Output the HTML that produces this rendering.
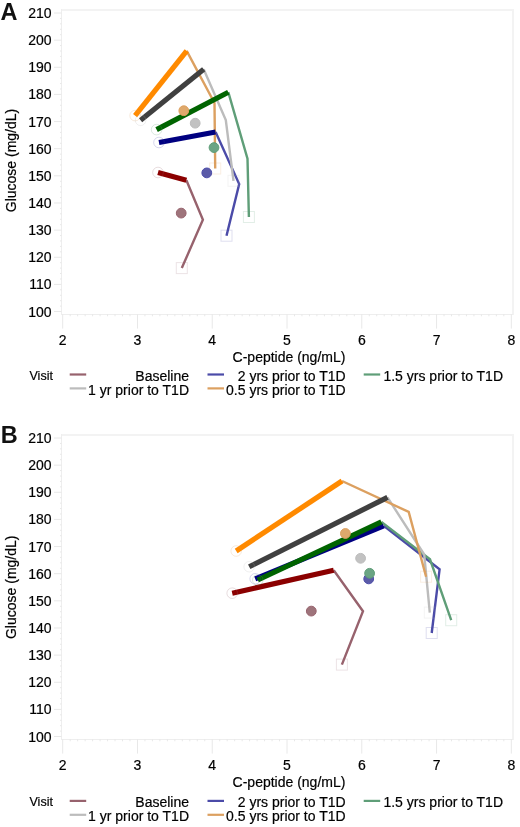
<!DOCTYPE html>
<html><head><meta charset="utf-8"><title>Glucose vs C-peptide</title>
<style>
html,body{margin:0;padding:0;background:#fff;}
body{width:520px;height:827px;overflow:hidden;}
svg{display:block;will-change:transform;}
.t{font-family:"Liberation Sans", sans-serif;font-size:14px;fill:#000;stroke:#000;stroke-width:0.2px;}
.v{font-family:"Liberation Sans", sans-serif;font-size:12.5px;fill:#000;stroke:#000;stroke-width:0.2px;}
.lab{font-family:"Liberation Sans", sans-serif;font-size:23.5px;font-weight:bold;fill:#111;}
</style></head>
<body>
<svg width="520" height="827" viewBox="0 0 520 827">
<text x="0.5" y="19.6" class="lab">A</text>
<line x1="61.5" y1="10" x2="514" y2="10" stroke="#f3f3f3" stroke-width="2"/>
<line x1="513" y1="10" x2="513" y2="315" stroke="#f3f3f3" stroke-width="2"/>
<line x1="61.5" y1="9" x2="61.5" y2="315" stroke="#eeeeee" stroke-width="1"/>
<line x1="61" y1="314.5" x2="513" y2="314.5" stroke="#eeeeee" stroke-width="1"/>
<line x1="54" y1="13.00" x2="61.5" y2="13.00" stroke="#e8e8e8" stroke-width="1"/>
<text x="51.5" y="18.00" text-anchor="end" class="t">210</text>
<line x1="54" y1="40.14" x2="61.5" y2="40.14" stroke="#e8e8e8" stroke-width="1"/>
<text x="51.5" y="45.14" text-anchor="end" class="t">200</text>
<line x1="54" y1="67.28" x2="61.5" y2="67.28" stroke="#e8e8e8" stroke-width="1"/>
<text x="51.5" y="72.28" text-anchor="end" class="t">190</text>
<line x1="54" y1="94.42" x2="61.5" y2="94.42" stroke="#e8e8e8" stroke-width="1"/>
<text x="51.5" y="99.42" text-anchor="end" class="t">180</text>
<line x1="54" y1="121.56" x2="61.5" y2="121.56" stroke="#e8e8e8" stroke-width="1"/>
<text x="51.5" y="126.56" text-anchor="end" class="t">170</text>
<line x1="54" y1="148.70" x2="61.5" y2="148.70" stroke="#e8e8e8" stroke-width="1"/>
<text x="51.5" y="153.70" text-anchor="end" class="t">160</text>
<line x1="54" y1="175.84" x2="61.5" y2="175.84" stroke="#e8e8e8" stroke-width="1"/>
<text x="51.5" y="180.84" text-anchor="end" class="t">150</text>
<line x1="54" y1="202.98" x2="61.5" y2="202.98" stroke="#e8e8e8" stroke-width="1"/>
<text x="51.5" y="207.98" text-anchor="end" class="t">140</text>
<line x1="54" y1="230.12" x2="61.5" y2="230.12" stroke="#e8e8e8" stroke-width="1"/>
<text x="51.5" y="235.12" text-anchor="end" class="t">130</text>
<line x1="54" y1="257.26" x2="61.5" y2="257.26" stroke="#e8e8e8" stroke-width="1"/>
<text x="51.5" y="262.26" text-anchor="end" class="t">120</text>
<line x1="54" y1="284.40" x2="61.5" y2="284.40" stroke="#e8e8e8" stroke-width="1"/>
<text x="51.5" y="289.40" text-anchor="end" class="t">110</text>
<line x1="54" y1="311.54" x2="61.5" y2="311.54" stroke="#e8e8e8" stroke-width="1"/>
<text x="51.5" y="316.54" text-anchor="end" class="t">100</text>
<line x1="60" y1="18.43" x2="61.5" y2="18.43" stroke="#e8e8e8" stroke-width="1"/>
<line x1="60" y1="23.86" x2="61.5" y2="23.86" stroke="#e8e8e8" stroke-width="1"/>
<line x1="60" y1="29.28" x2="61.5" y2="29.28" stroke="#e8e8e8" stroke-width="1"/>
<line x1="60" y1="34.71" x2="61.5" y2="34.71" stroke="#e8e8e8" stroke-width="1"/>
<line x1="60" y1="45.57" x2="61.5" y2="45.57" stroke="#e8e8e8" stroke-width="1"/>
<line x1="60" y1="51.00" x2="61.5" y2="51.00" stroke="#e8e8e8" stroke-width="1"/>
<line x1="60" y1="56.42" x2="61.5" y2="56.42" stroke="#e8e8e8" stroke-width="1"/>
<line x1="60" y1="61.85" x2="61.5" y2="61.85" stroke="#e8e8e8" stroke-width="1"/>
<line x1="60" y1="72.71" x2="61.5" y2="72.71" stroke="#e8e8e8" stroke-width="1"/>
<line x1="60" y1="78.14" x2="61.5" y2="78.14" stroke="#e8e8e8" stroke-width="1"/>
<line x1="60" y1="83.56" x2="61.5" y2="83.56" stroke="#e8e8e8" stroke-width="1"/>
<line x1="60" y1="88.99" x2="61.5" y2="88.99" stroke="#e8e8e8" stroke-width="1"/>
<line x1="60" y1="99.85" x2="61.5" y2="99.85" stroke="#e8e8e8" stroke-width="1"/>
<line x1="60" y1="105.28" x2="61.5" y2="105.28" stroke="#e8e8e8" stroke-width="1"/>
<line x1="60" y1="110.70" x2="61.5" y2="110.70" stroke="#e8e8e8" stroke-width="1"/>
<line x1="60" y1="116.13" x2="61.5" y2="116.13" stroke="#e8e8e8" stroke-width="1"/>
<line x1="60" y1="126.99" x2="61.5" y2="126.99" stroke="#e8e8e8" stroke-width="1"/>
<line x1="60" y1="132.42" x2="61.5" y2="132.42" stroke="#e8e8e8" stroke-width="1"/>
<line x1="60" y1="137.84" x2="61.5" y2="137.84" stroke="#e8e8e8" stroke-width="1"/>
<line x1="60" y1="143.27" x2="61.5" y2="143.27" stroke="#e8e8e8" stroke-width="1"/>
<line x1="60" y1="154.13" x2="61.5" y2="154.13" stroke="#e8e8e8" stroke-width="1"/>
<line x1="60" y1="159.56" x2="61.5" y2="159.56" stroke="#e8e8e8" stroke-width="1"/>
<line x1="60" y1="164.98" x2="61.5" y2="164.98" stroke="#e8e8e8" stroke-width="1"/>
<line x1="60" y1="170.41" x2="61.5" y2="170.41" stroke="#e8e8e8" stroke-width="1"/>
<line x1="60" y1="181.27" x2="61.5" y2="181.27" stroke="#e8e8e8" stroke-width="1"/>
<line x1="60" y1="186.70" x2="61.5" y2="186.70" stroke="#e8e8e8" stroke-width="1"/>
<line x1="60" y1="192.12" x2="61.5" y2="192.12" stroke="#e8e8e8" stroke-width="1"/>
<line x1="60" y1="197.55" x2="61.5" y2="197.55" stroke="#e8e8e8" stroke-width="1"/>
<line x1="60" y1="208.41" x2="61.5" y2="208.41" stroke="#e8e8e8" stroke-width="1"/>
<line x1="60" y1="213.84" x2="61.5" y2="213.84" stroke="#e8e8e8" stroke-width="1"/>
<line x1="60" y1="219.26" x2="61.5" y2="219.26" stroke="#e8e8e8" stroke-width="1"/>
<line x1="60" y1="224.69" x2="61.5" y2="224.69" stroke="#e8e8e8" stroke-width="1"/>
<line x1="60" y1="235.55" x2="61.5" y2="235.55" stroke="#e8e8e8" stroke-width="1"/>
<line x1="60" y1="240.98" x2="61.5" y2="240.98" stroke="#e8e8e8" stroke-width="1"/>
<line x1="60" y1="246.40" x2="61.5" y2="246.40" stroke="#e8e8e8" stroke-width="1"/>
<line x1="60" y1="251.83" x2="61.5" y2="251.83" stroke="#e8e8e8" stroke-width="1"/>
<line x1="60" y1="262.69" x2="61.5" y2="262.69" stroke="#e8e8e8" stroke-width="1"/>
<line x1="60" y1="268.12" x2="61.5" y2="268.12" stroke="#e8e8e8" stroke-width="1"/>
<line x1="60" y1="273.54" x2="61.5" y2="273.54" stroke="#e8e8e8" stroke-width="1"/>
<line x1="60" y1="278.97" x2="61.5" y2="278.97" stroke="#e8e8e8" stroke-width="1"/>
<line x1="60" y1="289.83" x2="61.5" y2="289.83" stroke="#e8e8e8" stroke-width="1"/>
<line x1="60" y1="295.26" x2="61.5" y2="295.26" stroke="#e8e8e8" stroke-width="1"/>
<line x1="60" y1="300.68" x2="61.5" y2="300.68" stroke="#e8e8e8" stroke-width="1"/>
<line x1="60" y1="306.11" x2="61.5" y2="306.11" stroke="#e8e8e8" stroke-width="1"/>
<line x1="62.70" y1="314.2" x2="62.70" y2="328.6" stroke="#e8e8e8" stroke-width="1"/>
<text x="62.70" y="345" text-anchor="middle" class="t">2</text>
<line x1="137.47" y1="314.2" x2="137.47" y2="328.6" stroke="#e8e8e8" stroke-width="1"/>
<text x="137.47" y="345" text-anchor="middle" class="t">3</text>
<line x1="212.24" y1="314.2" x2="212.24" y2="328.6" stroke="#e8e8e8" stroke-width="1"/>
<text x="212.24" y="345" text-anchor="middle" class="t">4</text>
<line x1="287.01" y1="314.2" x2="287.01" y2="328.6" stroke="#e8e8e8" stroke-width="1"/>
<text x="287.01" y="345" text-anchor="middle" class="t">5</text>
<line x1="361.78" y1="314.2" x2="361.78" y2="328.6" stroke="#e8e8e8" stroke-width="1"/>
<text x="361.78" y="345" text-anchor="middle" class="t">6</text>
<line x1="436.55" y1="314.2" x2="436.55" y2="328.6" stroke="#e8e8e8" stroke-width="1"/>
<text x="436.55" y="345" text-anchor="middle" class="t">7</text>
<line x1="511.32" y1="314.2" x2="511.32" y2="328.6" stroke="#e8e8e8" stroke-width="1"/>
<text x="511.32" y="345" text-anchor="middle" class="t">8</text>
<line x1="70.18" y1="314.2" x2="70.18" y2="316.3" stroke="#e8e8e8" stroke-width="1"/>
<line x1="77.65" y1="314.2" x2="77.65" y2="316.3" stroke="#e8e8e8" stroke-width="1"/>
<line x1="85.13" y1="314.2" x2="85.13" y2="316.3" stroke="#e8e8e8" stroke-width="1"/>
<line x1="92.61" y1="314.2" x2="92.61" y2="316.3" stroke="#e8e8e8" stroke-width="1"/>
<line x1="100.09" y1="314.2" x2="100.09" y2="316.3" stroke="#e8e8e8" stroke-width="1"/>
<line x1="107.56" y1="314.2" x2="107.56" y2="316.3" stroke="#e8e8e8" stroke-width="1"/>
<line x1="115.04" y1="314.2" x2="115.04" y2="316.3" stroke="#e8e8e8" stroke-width="1"/>
<line x1="122.52" y1="314.2" x2="122.52" y2="316.3" stroke="#e8e8e8" stroke-width="1"/>
<line x1="129.99" y1="314.2" x2="129.99" y2="316.3" stroke="#e8e8e8" stroke-width="1"/>
<line x1="144.95" y1="314.2" x2="144.95" y2="316.3" stroke="#e8e8e8" stroke-width="1"/>
<line x1="152.42" y1="314.2" x2="152.42" y2="316.3" stroke="#e8e8e8" stroke-width="1"/>
<line x1="159.90" y1="314.2" x2="159.90" y2="316.3" stroke="#e8e8e8" stroke-width="1"/>
<line x1="167.38" y1="314.2" x2="167.38" y2="316.3" stroke="#e8e8e8" stroke-width="1"/>
<line x1="174.86" y1="314.2" x2="174.86" y2="316.3" stroke="#e8e8e8" stroke-width="1"/>
<line x1="182.33" y1="314.2" x2="182.33" y2="316.3" stroke="#e8e8e8" stroke-width="1"/>
<line x1="189.81" y1="314.2" x2="189.81" y2="316.3" stroke="#e8e8e8" stroke-width="1"/>
<line x1="197.29" y1="314.2" x2="197.29" y2="316.3" stroke="#e8e8e8" stroke-width="1"/>
<line x1="204.76" y1="314.2" x2="204.76" y2="316.3" stroke="#e8e8e8" stroke-width="1"/>
<line x1="219.72" y1="314.2" x2="219.72" y2="316.3" stroke="#e8e8e8" stroke-width="1"/>
<line x1="227.19" y1="314.2" x2="227.19" y2="316.3" stroke="#e8e8e8" stroke-width="1"/>
<line x1="234.67" y1="314.2" x2="234.67" y2="316.3" stroke="#e8e8e8" stroke-width="1"/>
<line x1="242.15" y1="314.2" x2="242.15" y2="316.3" stroke="#e8e8e8" stroke-width="1"/>
<line x1="249.62" y1="314.2" x2="249.62" y2="316.3" stroke="#e8e8e8" stroke-width="1"/>
<line x1="257.10" y1="314.2" x2="257.10" y2="316.3" stroke="#e8e8e8" stroke-width="1"/>
<line x1="264.58" y1="314.2" x2="264.58" y2="316.3" stroke="#e8e8e8" stroke-width="1"/>
<line x1="272.06" y1="314.2" x2="272.06" y2="316.3" stroke="#e8e8e8" stroke-width="1"/>
<line x1="279.53" y1="314.2" x2="279.53" y2="316.3" stroke="#e8e8e8" stroke-width="1"/>
<line x1="294.49" y1="314.2" x2="294.49" y2="316.3" stroke="#e8e8e8" stroke-width="1"/>
<line x1="301.96" y1="314.2" x2="301.96" y2="316.3" stroke="#e8e8e8" stroke-width="1"/>
<line x1="309.44" y1="314.2" x2="309.44" y2="316.3" stroke="#e8e8e8" stroke-width="1"/>
<line x1="316.92" y1="314.2" x2="316.92" y2="316.3" stroke="#e8e8e8" stroke-width="1"/>
<line x1="324.39" y1="314.2" x2="324.39" y2="316.3" stroke="#e8e8e8" stroke-width="1"/>
<line x1="331.87" y1="314.2" x2="331.87" y2="316.3" stroke="#e8e8e8" stroke-width="1"/>
<line x1="339.35" y1="314.2" x2="339.35" y2="316.3" stroke="#e8e8e8" stroke-width="1"/>
<line x1="346.83" y1="314.2" x2="346.83" y2="316.3" stroke="#e8e8e8" stroke-width="1"/>
<line x1="354.30" y1="314.2" x2="354.30" y2="316.3" stroke="#e8e8e8" stroke-width="1"/>
<line x1="369.26" y1="314.2" x2="369.26" y2="316.3" stroke="#e8e8e8" stroke-width="1"/>
<line x1="376.73" y1="314.2" x2="376.73" y2="316.3" stroke="#e8e8e8" stroke-width="1"/>
<line x1="384.21" y1="314.2" x2="384.21" y2="316.3" stroke="#e8e8e8" stroke-width="1"/>
<line x1="391.69" y1="314.2" x2="391.69" y2="316.3" stroke="#e8e8e8" stroke-width="1"/>
<line x1="399.16" y1="314.2" x2="399.16" y2="316.3" stroke="#e8e8e8" stroke-width="1"/>
<line x1="406.64" y1="314.2" x2="406.64" y2="316.3" stroke="#e8e8e8" stroke-width="1"/>
<line x1="414.12" y1="314.2" x2="414.12" y2="316.3" stroke="#e8e8e8" stroke-width="1"/>
<line x1="421.60" y1="314.2" x2="421.60" y2="316.3" stroke="#e8e8e8" stroke-width="1"/>
<line x1="429.07" y1="314.2" x2="429.07" y2="316.3" stroke="#e8e8e8" stroke-width="1"/>
<line x1="444.03" y1="314.2" x2="444.03" y2="316.3" stroke="#e8e8e8" stroke-width="1"/>
<line x1="451.50" y1="314.2" x2="451.50" y2="316.3" stroke="#e8e8e8" stroke-width="1"/>
<line x1="458.98" y1="314.2" x2="458.98" y2="316.3" stroke="#e8e8e8" stroke-width="1"/>
<line x1="466.46" y1="314.2" x2="466.46" y2="316.3" stroke="#e8e8e8" stroke-width="1"/>
<line x1="473.93" y1="314.2" x2="473.93" y2="316.3" stroke="#e8e8e8" stroke-width="1"/>
<line x1="481.41" y1="314.2" x2="481.41" y2="316.3" stroke="#e8e8e8" stroke-width="1"/>
<line x1="488.89" y1="314.2" x2="488.89" y2="316.3" stroke="#e8e8e8" stroke-width="1"/>
<line x1="496.37" y1="314.2" x2="496.37" y2="316.3" stroke="#e8e8e8" stroke-width="1"/>
<line x1="503.84" y1="314.2" x2="503.84" y2="316.3" stroke="#e8e8e8" stroke-width="1"/>
<text x="289" y="361.6" text-anchor="middle" class="t">C-peptide (ng/mL)</text>
<text transform="translate(15.8 160.5) rotate(-90)" text-anchor="middle" class="t">Glucose (mg/dL)</text>
<text x="29.5" y="379.6" class="v">Visit</text>
<line x1="69.7" y1="374.5" x2="86.2" y2="374.5" stroke="#97626d" stroke-width="2.2"/>
<text x="189" y="381.0" text-anchor="end" class="t">Baseline</text>
<line x1="69.7" y1="388.4" x2="86.2" y2="388.4" stroke="#bcbcbc" stroke-width="2.2"/>
<text x="189" y="394.9" text-anchor="end" class="t">1 yr prior to T1D</text>
<line x1="207.5" y1="374.5" x2="224.0" y2="374.5" stroke="#4b4ba8" stroke-width="2.2"/>
<text x="345.6" y="381.0" text-anchor="end" class="t">2 yrs prior to T1D</text>
<line x1="207.5" y1="388.4" x2="224.0" y2="388.4" stroke="#dca060" stroke-width="2.2"/>
<text x="345.6" y="394.9" text-anchor="end" class="t">0.5 yrs prior to T1D</text>
<line x1="363.7" y1="374.5" x2="380.2" y2="374.5" stroke="#5f9e78" stroke-width="2.2"/>
<text x="503" y="381.0" text-anchor="end" class="t">1.5 yrs prior to T1D</text>
<polyline points="186.4,180.3 202.9,219.7 181.8,268.1" fill="none" stroke="#97626d" stroke-width="2.4" stroke-linejoin="miter"/>
<polyline points="215.6,132.0 239.2,184.0 226.5,235.7" fill="none" stroke="#4b4ba8" stroke-width="2.4" stroke-linejoin="miter"/>
<polyline points="228.3,92.2 247.5,158.6 248.9,217.0" fill="none" stroke="#5f9e78" stroke-width="2.4" stroke-linejoin="miter"/>
<polyline points="203.7,69.2 225.8,120.0 233.5,180.8" fill="none" stroke="#bcbcbc" stroke-width="2.4" stroke-linejoin="miter"/>
<polyline points="186.7,50.9 214.5,103.0 215.2,168.5" fill="none" stroke="#dca060" stroke-width="2.4" stroke-linejoin="miter"/>
<line x1="158.0" y1="172.5" x2="186.4" y2="180.3" stroke="#8b0000" stroke-width="5.2" stroke-linecap="butt"/>
<line x1="159.0" y1="142.5" x2="215.6" y2="132.0" stroke="#000080" stroke-width="5.2" stroke-linecap="butt"/>
<line x1="156.6" y1="129.6" x2="228.3" y2="92.2" stroke="#006400" stroke-width="5.2" stroke-linecap="butt"/>
<line x1="140.6" y1="120.3" x2="203.7" y2="69.2" stroke="#404040" stroke-width="5.2" stroke-linecap="butt"/>
<line x1="135.1" y1="115.6" x2="186.7" y2="50.9" stroke="#ff8a00" stroke-width="5.2" stroke-linecap="butt"/>
<circle cx="158.0" cy="172.5" r="5.3" fill="none" stroke="#97626d" stroke-opacity="0.22" stroke-width="1"/>
<rect x="176.3" y="262.6" width="11" height="11" fill="none" stroke="#97626d" stroke-opacity="0.18" stroke-width="1"/>
<circle cx="159.0" cy="142.5" r="5.3" fill="none" stroke="#4b4ba8" stroke-opacity="0.22" stroke-width="1"/>
<rect x="221.0" y="230.2" width="11" height="11" fill="none" stroke="#4b4ba8" stroke-opacity="0.18" stroke-width="1"/>
<circle cx="156.6" cy="129.6" r="5.3" fill="none" stroke="#5f9e78" stroke-opacity="0.22" stroke-width="1"/>
<rect x="243.4" y="211.5" width="11" height="11" fill="none" stroke="#5f9e78" stroke-opacity="0.18" stroke-width="1"/>
<circle cx="140.6" cy="120.3" r="5.3" fill="none" stroke="#bcbcbc" stroke-opacity="0.22" stroke-width="1"/>
<rect x="228.0" y="175.3" width="11" height="11" fill="none" stroke="#bcbcbc" stroke-opacity="0.18" stroke-width="1"/>
<circle cx="135.1" cy="115.6" r="5.3" fill="none" stroke="#dca060" stroke-opacity="0.22" stroke-width="1"/>
<rect x="209.7" y="163.0" width="11" height="11" fill="none" stroke="#dca060" stroke-opacity="0.18" stroke-width="1"/>
<circle cx="181.2" cy="213.1" r="4.9" fill="#9e747b" stroke="#97626d" stroke-width="1"/>
<circle cx="206.8" cy="172.9" r="4.9" fill="#5b5ba8" stroke="#4b4ba8" stroke-width="1"/>
<circle cx="214.0" cy="147.6" r="4.9" fill="#6aa484" stroke="#5f9e78" stroke-width="1"/>
<circle cx="195.2" cy="123.2" r="4.9" fill="#c2c2c2" stroke="#bcbcbc" stroke-width="1"/>
<circle cx="183.8" cy="110.7" r="4.9" fill="#dfa96c" stroke="#dca060" stroke-width="1"/>
<text x="0.7" y="443.4" class="lab">B</text>
<line x1="61.5" y1="435" x2="514" y2="435" stroke="#f3f3f3" stroke-width="2"/>
<line x1="513" y1="435" x2="513" y2="740" stroke="#f3f3f3" stroke-width="2"/>
<line x1="61.5" y1="434" x2="61.5" y2="740" stroke="#eeeeee" stroke-width="1"/>
<line x1="61" y1="739.5" x2="513" y2="739.5" stroke="#eeeeee" stroke-width="1"/>
<line x1="54" y1="438.00" x2="61.5" y2="438.00" stroke="#e8e8e8" stroke-width="1"/>
<text x="51.5" y="443.00" text-anchor="end" class="t">210</text>
<line x1="54" y1="465.14" x2="61.5" y2="465.14" stroke="#e8e8e8" stroke-width="1"/>
<text x="51.5" y="470.14" text-anchor="end" class="t">200</text>
<line x1="54" y1="492.28" x2="61.5" y2="492.28" stroke="#e8e8e8" stroke-width="1"/>
<text x="51.5" y="497.28" text-anchor="end" class="t">190</text>
<line x1="54" y1="519.42" x2="61.5" y2="519.42" stroke="#e8e8e8" stroke-width="1"/>
<text x="51.5" y="524.42" text-anchor="end" class="t">180</text>
<line x1="54" y1="546.56" x2="61.5" y2="546.56" stroke="#e8e8e8" stroke-width="1"/>
<text x="51.5" y="551.56" text-anchor="end" class="t">170</text>
<line x1="54" y1="573.70" x2="61.5" y2="573.70" stroke="#e8e8e8" stroke-width="1"/>
<text x="51.5" y="578.70" text-anchor="end" class="t">160</text>
<line x1="54" y1="600.84" x2="61.5" y2="600.84" stroke="#e8e8e8" stroke-width="1"/>
<text x="51.5" y="605.84" text-anchor="end" class="t">150</text>
<line x1="54" y1="627.98" x2="61.5" y2="627.98" stroke="#e8e8e8" stroke-width="1"/>
<text x="51.5" y="632.98" text-anchor="end" class="t">140</text>
<line x1="54" y1="655.12" x2="61.5" y2="655.12" stroke="#e8e8e8" stroke-width="1"/>
<text x="51.5" y="660.12" text-anchor="end" class="t">130</text>
<line x1="54" y1="682.26" x2="61.5" y2="682.26" stroke="#e8e8e8" stroke-width="1"/>
<text x="51.5" y="687.26" text-anchor="end" class="t">120</text>
<line x1="54" y1="709.40" x2="61.5" y2="709.40" stroke="#e8e8e8" stroke-width="1"/>
<text x="51.5" y="714.40" text-anchor="end" class="t">110</text>
<line x1="54" y1="736.54" x2="61.5" y2="736.54" stroke="#e8e8e8" stroke-width="1"/>
<text x="51.5" y="741.54" text-anchor="end" class="t">100</text>
<line x1="60" y1="443.43" x2="61.5" y2="443.43" stroke="#e8e8e8" stroke-width="1"/>
<line x1="60" y1="448.86" x2="61.5" y2="448.86" stroke="#e8e8e8" stroke-width="1"/>
<line x1="60" y1="454.28" x2="61.5" y2="454.28" stroke="#e8e8e8" stroke-width="1"/>
<line x1="60" y1="459.71" x2="61.5" y2="459.71" stroke="#e8e8e8" stroke-width="1"/>
<line x1="60" y1="470.57" x2="61.5" y2="470.57" stroke="#e8e8e8" stroke-width="1"/>
<line x1="60" y1="476.00" x2="61.5" y2="476.00" stroke="#e8e8e8" stroke-width="1"/>
<line x1="60" y1="481.42" x2="61.5" y2="481.42" stroke="#e8e8e8" stroke-width="1"/>
<line x1="60" y1="486.85" x2="61.5" y2="486.85" stroke="#e8e8e8" stroke-width="1"/>
<line x1="60" y1="497.71" x2="61.5" y2="497.71" stroke="#e8e8e8" stroke-width="1"/>
<line x1="60" y1="503.14" x2="61.5" y2="503.14" stroke="#e8e8e8" stroke-width="1"/>
<line x1="60" y1="508.56" x2="61.5" y2="508.56" stroke="#e8e8e8" stroke-width="1"/>
<line x1="60" y1="513.99" x2="61.5" y2="513.99" stroke="#e8e8e8" stroke-width="1"/>
<line x1="60" y1="524.85" x2="61.5" y2="524.85" stroke="#e8e8e8" stroke-width="1"/>
<line x1="60" y1="530.28" x2="61.5" y2="530.28" stroke="#e8e8e8" stroke-width="1"/>
<line x1="60" y1="535.70" x2="61.5" y2="535.70" stroke="#e8e8e8" stroke-width="1"/>
<line x1="60" y1="541.13" x2="61.5" y2="541.13" stroke="#e8e8e8" stroke-width="1"/>
<line x1="60" y1="551.99" x2="61.5" y2="551.99" stroke="#e8e8e8" stroke-width="1"/>
<line x1="60" y1="557.42" x2="61.5" y2="557.42" stroke="#e8e8e8" stroke-width="1"/>
<line x1="60" y1="562.84" x2="61.5" y2="562.84" stroke="#e8e8e8" stroke-width="1"/>
<line x1="60" y1="568.27" x2="61.5" y2="568.27" stroke="#e8e8e8" stroke-width="1"/>
<line x1="60" y1="579.13" x2="61.5" y2="579.13" stroke="#e8e8e8" stroke-width="1"/>
<line x1="60" y1="584.56" x2="61.5" y2="584.56" stroke="#e8e8e8" stroke-width="1"/>
<line x1="60" y1="589.98" x2="61.5" y2="589.98" stroke="#e8e8e8" stroke-width="1"/>
<line x1="60" y1="595.41" x2="61.5" y2="595.41" stroke="#e8e8e8" stroke-width="1"/>
<line x1="60" y1="606.27" x2="61.5" y2="606.27" stroke="#e8e8e8" stroke-width="1"/>
<line x1="60" y1="611.70" x2="61.5" y2="611.70" stroke="#e8e8e8" stroke-width="1"/>
<line x1="60" y1="617.12" x2="61.5" y2="617.12" stroke="#e8e8e8" stroke-width="1"/>
<line x1="60" y1="622.55" x2="61.5" y2="622.55" stroke="#e8e8e8" stroke-width="1"/>
<line x1="60" y1="633.41" x2="61.5" y2="633.41" stroke="#e8e8e8" stroke-width="1"/>
<line x1="60" y1="638.84" x2="61.5" y2="638.84" stroke="#e8e8e8" stroke-width="1"/>
<line x1="60" y1="644.26" x2="61.5" y2="644.26" stroke="#e8e8e8" stroke-width="1"/>
<line x1="60" y1="649.69" x2="61.5" y2="649.69" stroke="#e8e8e8" stroke-width="1"/>
<line x1="60" y1="660.55" x2="61.5" y2="660.55" stroke="#e8e8e8" stroke-width="1"/>
<line x1="60" y1="665.98" x2="61.5" y2="665.98" stroke="#e8e8e8" stroke-width="1"/>
<line x1="60" y1="671.40" x2="61.5" y2="671.40" stroke="#e8e8e8" stroke-width="1"/>
<line x1="60" y1="676.83" x2="61.5" y2="676.83" stroke="#e8e8e8" stroke-width="1"/>
<line x1="60" y1="687.69" x2="61.5" y2="687.69" stroke="#e8e8e8" stroke-width="1"/>
<line x1="60" y1="693.12" x2="61.5" y2="693.12" stroke="#e8e8e8" stroke-width="1"/>
<line x1="60" y1="698.54" x2="61.5" y2="698.54" stroke="#e8e8e8" stroke-width="1"/>
<line x1="60" y1="703.97" x2="61.5" y2="703.97" stroke="#e8e8e8" stroke-width="1"/>
<line x1="60" y1="714.83" x2="61.5" y2="714.83" stroke="#e8e8e8" stroke-width="1"/>
<line x1="60" y1="720.26" x2="61.5" y2="720.26" stroke="#e8e8e8" stroke-width="1"/>
<line x1="60" y1="725.68" x2="61.5" y2="725.68" stroke="#e8e8e8" stroke-width="1"/>
<line x1="60" y1="731.11" x2="61.5" y2="731.11" stroke="#e8e8e8" stroke-width="1"/>
<line x1="62.70" y1="739.2" x2="62.70" y2="753.6" stroke="#e8e8e8" stroke-width="1"/>
<text x="62.70" y="770" text-anchor="middle" class="t">2</text>
<line x1="137.47" y1="739.2" x2="137.47" y2="753.6" stroke="#e8e8e8" stroke-width="1"/>
<text x="137.47" y="770" text-anchor="middle" class="t">3</text>
<line x1="212.24" y1="739.2" x2="212.24" y2="753.6" stroke="#e8e8e8" stroke-width="1"/>
<text x="212.24" y="770" text-anchor="middle" class="t">4</text>
<line x1="287.01" y1="739.2" x2="287.01" y2="753.6" stroke="#e8e8e8" stroke-width="1"/>
<text x="287.01" y="770" text-anchor="middle" class="t">5</text>
<line x1="361.78" y1="739.2" x2="361.78" y2="753.6" stroke="#e8e8e8" stroke-width="1"/>
<text x="361.78" y="770" text-anchor="middle" class="t">6</text>
<line x1="436.55" y1="739.2" x2="436.55" y2="753.6" stroke="#e8e8e8" stroke-width="1"/>
<text x="436.55" y="770" text-anchor="middle" class="t">7</text>
<line x1="511.32" y1="739.2" x2="511.32" y2="753.6" stroke="#e8e8e8" stroke-width="1"/>
<text x="511.32" y="770" text-anchor="middle" class="t">8</text>
<line x1="70.18" y1="739.2" x2="70.18" y2="741.3" stroke="#e8e8e8" stroke-width="1"/>
<line x1="77.65" y1="739.2" x2="77.65" y2="741.3" stroke="#e8e8e8" stroke-width="1"/>
<line x1="85.13" y1="739.2" x2="85.13" y2="741.3" stroke="#e8e8e8" stroke-width="1"/>
<line x1="92.61" y1="739.2" x2="92.61" y2="741.3" stroke="#e8e8e8" stroke-width="1"/>
<line x1="100.09" y1="739.2" x2="100.09" y2="741.3" stroke="#e8e8e8" stroke-width="1"/>
<line x1="107.56" y1="739.2" x2="107.56" y2="741.3" stroke="#e8e8e8" stroke-width="1"/>
<line x1="115.04" y1="739.2" x2="115.04" y2="741.3" stroke="#e8e8e8" stroke-width="1"/>
<line x1="122.52" y1="739.2" x2="122.52" y2="741.3" stroke="#e8e8e8" stroke-width="1"/>
<line x1="129.99" y1="739.2" x2="129.99" y2="741.3" stroke="#e8e8e8" stroke-width="1"/>
<line x1="144.95" y1="739.2" x2="144.95" y2="741.3" stroke="#e8e8e8" stroke-width="1"/>
<line x1="152.42" y1="739.2" x2="152.42" y2="741.3" stroke="#e8e8e8" stroke-width="1"/>
<line x1="159.90" y1="739.2" x2="159.90" y2="741.3" stroke="#e8e8e8" stroke-width="1"/>
<line x1="167.38" y1="739.2" x2="167.38" y2="741.3" stroke="#e8e8e8" stroke-width="1"/>
<line x1="174.86" y1="739.2" x2="174.86" y2="741.3" stroke="#e8e8e8" stroke-width="1"/>
<line x1="182.33" y1="739.2" x2="182.33" y2="741.3" stroke="#e8e8e8" stroke-width="1"/>
<line x1="189.81" y1="739.2" x2="189.81" y2="741.3" stroke="#e8e8e8" stroke-width="1"/>
<line x1="197.29" y1="739.2" x2="197.29" y2="741.3" stroke="#e8e8e8" stroke-width="1"/>
<line x1="204.76" y1="739.2" x2="204.76" y2="741.3" stroke="#e8e8e8" stroke-width="1"/>
<line x1="219.72" y1="739.2" x2="219.72" y2="741.3" stroke="#e8e8e8" stroke-width="1"/>
<line x1="227.19" y1="739.2" x2="227.19" y2="741.3" stroke="#e8e8e8" stroke-width="1"/>
<line x1="234.67" y1="739.2" x2="234.67" y2="741.3" stroke="#e8e8e8" stroke-width="1"/>
<line x1="242.15" y1="739.2" x2="242.15" y2="741.3" stroke="#e8e8e8" stroke-width="1"/>
<line x1="249.62" y1="739.2" x2="249.62" y2="741.3" stroke="#e8e8e8" stroke-width="1"/>
<line x1="257.10" y1="739.2" x2="257.10" y2="741.3" stroke="#e8e8e8" stroke-width="1"/>
<line x1="264.58" y1="739.2" x2="264.58" y2="741.3" stroke="#e8e8e8" stroke-width="1"/>
<line x1="272.06" y1="739.2" x2="272.06" y2="741.3" stroke="#e8e8e8" stroke-width="1"/>
<line x1="279.53" y1="739.2" x2="279.53" y2="741.3" stroke="#e8e8e8" stroke-width="1"/>
<line x1="294.49" y1="739.2" x2="294.49" y2="741.3" stroke="#e8e8e8" stroke-width="1"/>
<line x1="301.96" y1="739.2" x2="301.96" y2="741.3" stroke="#e8e8e8" stroke-width="1"/>
<line x1="309.44" y1="739.2" x2="309.44" y2="741.3" stroke="#e8e8e8" stroke-width="1"/>
<line x1="316.92" y1="739.2" x2="316.92" y2="741.3" stroke="#e8e8e8" stroke-width="1"/>
<line x1="324.39" y1="739.2" x2="324.39" y2="741.3" stroke="#e8e8e8" stroke-width="1"/>
<line x1="331.87" y1="739.2" x2="331.87" y2="741.3" stroke="#e8e8e8" stroke-width="1"/>
<line x1="339.35" y1="739.2" x2="339.35" y2="741.3" stroke="#e8e8e8" stroke-width="1"/>
<line x1="346.83" y1="739.2" x2="346.83" y2="741.3" stroke="#e8e8e8" stroke-width="1"/>
<line x1="354.30" y1="739.2" x2="354.30" y2="741.3" stroke="#e8e8e8" stroke-width="1"/>
<line x1="369.26" y1="739.2" x2="369.26" y2="741.3" stroke="#e8e8e8" stroke-width="1"/>
<line x1="376.73" y1="739.2" x2="376.73" y2="741.3" stroke="#e8e8e8" stroke-width="1"/>
<line x1="384.21" y1="739.2" x2="384.21" y2="741.3" stroke="#e8e8e8" stroke-width="1"/>
<line x1="391.69" y1="739.2" x2="391.69" y2="741.3" stroke="#e8e8e8" stroke-width="1"/>
<line x1="399.16" y1="739.2" x2="399.16" y2="741.3" stroke="#e8e8e8" stroke-width="1"/>
<line x1="406.64" y1="739.2" x2="406.64" y2="741.3" stroke="#e8e8e8" stroke-width="1"/>
<line x1="414.12" y1="739.2" x2="414.12" y2="741.3" stroke="#e8e8e8" stroke-width="1"/>
<line x1="421.60" y1="739.2" x2="421.60" y2="741.3" stroke="#e8e8e8" stroke-width="1"/>
<line x1="429.07" y1="739.2" x2="429.07" y2="741.3" stroke="#e8e8e8" stroke-width="1"/>
<line x1="444.03" y1="739.2" x2="444.03" y2="741.3" stroke="#e8e8e8" stroke-width="1"/>
<line x1="451.50" y1="739.2" x2="451.50" y2="741.3" stroke="#e8e8e8" stroke-width="1"/>
<line x1="458.98" y1="739.2" x2="458.98" y2="741.3" stroke="#e8e8e8" stroke-width="1"/>
<line x1="466.46" y1="739.2" x2="466.46" y2="741.3" stroke="#e8e8e8" stroke-width="1"/>
<line x1="473.93" y1="739.2" x2="473.93" y2="741.3" stroke="#e8e8e8" stroke-width="1"/>
<line x1="481.41" y1="739.2" x2="481.41" y2="741.3" stroke="#e8e8e8" stroke-width="1"/>
<line x1="488.89" y1="739.2" x2="488.89" y2="741.3" stroke="#e8e8e8" stroke-width="1"/>
<line x1="496.37" y1="739.2" x2="496.37" y2="741.3" stroke="#e8e8e8" stroke-width="1"/>
<line x1="503.84" y1="739.2" x2="503.84" y2="741.3" stroke="#e8e8e8" stroke-width="1"/>
<text x="289" y="787.1" text-anchor="middle" class="t">C-peptide (ng/mL)</text>
<text transform="translate(15.8 587.3) rotate(-90)" text-anchor="middle" class="t">Glucose (mg/dL)</text>
<text x="29.5" y="806.0" class="v">Visit</text>
<line x1="69.7" y1="800.9" x2="86.2" y2="800.9" stroke="#97626d" stroke-width="2.2"/>
<text x="189" y="807.4" text-anchor="end" class="t">Baseline</text>
<line x1="69.7" y1="814.8" x2="86.2" y2="814.8" stroke="#bcbcbc" stroke-width="2.2"/>
<text x="189" y="821.3" text-anchor="end" class="t">1 yr prior to T1D</text>
<line x1="207.5" y1="800.9" x2="224.0" y2="800.9" stroke="#4b4ba8" stroke-width="2.2"/>
<text x="345.6" y="807.4" text-anchor="end" class="t">2 yrs prior to T1D</text>
<line x1="207.5" y1="814.8" x2="224.0" y2="814.8" stroke="#dca060" stroke-width="2.2"/>
<text x="345.6" y="821.3" text-anchor="end" class="t">0.5 yrs prior to T1D</text>
<line x1="363.7" y1="800.9" x2="380.2" y2="800.9" stroke="#5f9e78" stroke-width="2.2"/>
<text x="503" y="807.4" text-anchor="end" class="t">1.5 yrs prior to T1D</text>
<polyline points="333.7,570.2 363.0,611.2 341.9,664.6" fill="none" stroke="#97626d" stroke-width="2.4" stroke-linejoin="miter"/>
<polyline points="383.7,525.8 439.6,569.4 431.7,633.0" fill="none" stroke="#4b4ba8" stroke-width="2.4" stroke-linejoin="miter"/>
<polyline points="381.4,521.9 430.0,559.3 451.2,620.2" fill="none" stroke="#5f9e78" stroke-width="2.4" stroke-linejoin="miter"/>
<polyline points="387.5,497.4 424.2,554.5 429.8,612.6" fill="none" stroke="#bcbcbc" stroke-width="2.4" stroke-linejoin="miter"/>
<polyline points="342.0,481.0 408.7,511.9 426.1,576.7" fill="none" stroke="#dca060" stroke-width="2.4" stroke-linejoin="miter"/>
<line x1="232.2" y1="593.2" x2="333.7" y2="570.2" stroke="#8b0000" stroke-width="5.2" stroke-linecap="butt"/>
<line x1="255.2" y1="578.8" x2="383.7" y2="525.8" stroke="#000080" stroke-width="5.2" stroke-linecap="butt"/>
<line x1="257.8" y1="580.0" x2="381.4" y2="521.9" stroke="#006400" stroke-width="5.2" stroke-linecap="butt"/>
<line x1="249.2" y1="566.7" x2="387.5" y2="497.4" stroke="#404040" stroke-width="5.2" stroke-linecap="butt"/>
<line x1="236.2" y1="551.0" x2="342.0" y2="481.0" stroke="#ff8a00" stroke-width="5.2" stroke-linecap="butt"/>
<circle cx="232.2" cy="593.2" r="5.3" fill="none" stroke="#97626d" stroke-opacity="0.22" stroke-width="1"/>
<rect x="336.4" y="659.1" width="11" height="11" fill="none" stroke="#97626d" stroke-opacity="0.18" stroke-width="1"/>
<circle cx="255.2" cy="578.8" r="5.3" fill="none" stroke="#4b4ba8" stroke-opacity="0.22" stroke-width="1"/>
<rect x="426.2" y="627.5" width="11" height="11" fill="none" stroke="#4b4ba8" stroke-opacity="0.18" stroke-width="1"/>
<circle cx="257.8" cy="580.0" r="5.3" fill="none" stroke="#5f9e78" stroke-opacity="0.22" stroke-width="1"/>
<rect x="445.7" y="614.7" width="11" height="11" fill="none" stroke="#5f9e78" stroke-opacity="0.18" stroke-width="1"/>
<circle cx="249.2" cy="566.7" r="5.3" fill="none" stroke="#bcbcbc" stroke-opacity="0.22" stroke-width="1"/>
<rect x="424.3" y="607.1" width="11" height="11" fill="none" stroke="#bcbcbc" stroke-opacity="0.18" stroke-width="1"/>
<circle cx="236.2" cy="551.0" r="5.3" fill="none" stroke="#dca060" stroke-opacity="0.22" stroke-width="1"/>
<rect x="420.6" y="571.2" width="11" height="11" fill="none" stroke="#dca060" stroke-opacity="0.18" stroke-width="1"/>
<circle cx="311.3" cy="611.1" r="4.9" fill="#9e747b" stroke="#97626d" stroke-width="1"/>
<circle cx="368.7" cy="578.9" r="4.9" fill="#5b5ba8" stroke="#4b4ba8" stroke-width="1"/>
<circle cx="369.6" cy="573.3" r="4.9" fill="#6aa484" stroke="#5f9e78" stroke-width="1"/>
<circle cx="360.6" cy="558.3" r="4.9" fill="#c2c2c2" stroke="#bcbcbc" stroke-width="1"/>
<circle cx="345.4" cy="533.5" r="4.9" fill="#dfa96c" stroke="#dca060" stroke-width="1"/>
</svg>
</body></html>
